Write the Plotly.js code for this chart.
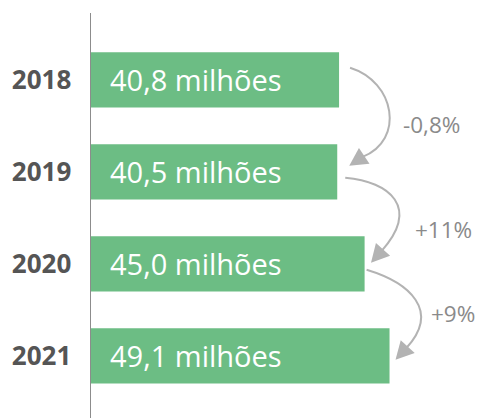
<!DOCTYPE html>
<html>
<head>
<meta charset="utf-8">
<script src="https://cdn.plot.ly/plotly-3.0.1.min.js"></script>
<style>html,body{margin:0;padding:0;background:#fff;}#chart{width:479px;height:418px;}</style>
</head>
<body>
<div id="chart"></div>
<script>
// ---- data ----
const years = ['2018', '2019', '2020', '2021'];
const values = [40.8, 40.5, 45.0, 49.1];
const barLabels = ['40,8 milhões', '40,5 milhões', '45,0 milhões', '49,1 milhões'];
const changeLabels = ['-0,8%', '+11%', '+9%'];

// ---- layout geometry ----
const W = 479, H = 418;
const M = {l: 91, r: 0, t: 13, b: 0};
const plotW = W - M.l - M.r, plotH = H - M.t - M.b;
const pxPerUnit = 6.08;
const xMax = plotW / pxPerUnit;
const yTop = -0.726, yBot = 3.676;
const pyPerUnit = plotH / (yBot - yTop);

const cats = years.map((_, i) => i);
const px = v => M.l + v * pxPerUnit;
const py = v => M.t + (v - yTop) * pyPerUnit;
const dx = p => (p - M.l) / pxPerUnit;
const dy = p => yTop + (p - M.t) / pyPerUnit;

// arrow styling (pixel offsets relative to bar ends)
const arrowStyle = [
  {s: [11, -12], t: [12, -6], dir: [-15, 10], c1: [45, 14], c2: [41, -16], lab: [52, -41]},
  {s: [8, 6], t: [6.4, -1], dir: [-12.4, 13.8], c1: [45, 4], c2: [37, -42], lab: [42, -33]},
  {s: [2, 6], t: [6, 4], dir: [-13, 14.1], c1: [43, 13], c2: [33, -36], lab: [33.5, -46]}
];
const gray = '#b3b3b3';
const shapes = [];
const annotations = [];

changeLabels.forEach((lab, i) => {
  const st = arrowStyle[i];
  const A = [px(values[i]), py(cats[i])];
  const B = [px(values[i + 1]), py(cats[i + 1])];
  const S = [A[0] + st.s[0], A[1] + st.s[1]];
  const T = [B[0] + st.t[0], B[1] + st.t[1]];
  const n = Math.hypot(st.dir[0], st.dir[1]);
  const d = [st.dir[0] / n, st.dir[1] / n];
  const len = 18, hw = 9.5;
  const E = [T[0] - len * d[0], T[1] - len * d[1]];
  const C1 = [S[0] + st.c1[0], S[1] + st.c1[1]];
  const C2 = [E[0] + st.c2[0], E[1] + st.c2[1]];
  const P = p => dx(p[0]) + ',' + dy(p[1]);
  shapes.push({
    type: 'path', xref: 'x', yref: 'y',
    path: 'M ' + P(S) + ' C ' + P(C1) + ' ' + P(C2) + ' ' + P([E[0] + 2 * d[0], E[1] + 2 * d[1]]),
    line: {color: gray, width: 2}
  });
  const perp = [-d[1], d[0]];
  const b1 = [E[0] + hw * perp[0], E[1] + hw * perp[1]];
  const b2 = [E[0] - hw * perp[0], E[1] - hw * perp[1]];
  shapes.push({
    type: 'path', xref: 'x', yref: 'y',
    path: 'M ' + P(T) + ' L ' + P(b1) + ' L ' + P(b2) + ' Z',
    fillcolor: gray, line: {width: 0}
  });
  annotations.push({
    x: dx(T[0] + st.lab[0]), y: dy(T[1] + st.lab[1]), xref: 'x', yref: 'y',
    text: lab, showarrow: false, xanchor: 'left', yanchor: 'middle',
    font: {family: 'Open Sans', size: 22.5, color: '#8a8a8a'}
  });
});

barLabels.forEach((t, i) => {
  annotations.push({
    x: 0, y: cats[i], xref: 'x', yref: 'y', xshift: 17,
    text: t, showarrow: false, xanchor: 'left', yanchor: 'middle',
    font: {family: 'Open Sans', size: 29, color: '#ffffff'}
  });
});

const trace = {
  type: 'bar', orientation: 'h',
  y: cats, x: values, width: 0.6,
  marker: {color: '#6cbd84'},
  hoverinfo: 'none'
};

const layout = {
  width: W, height: H,
  margin: M,
  paper_bgcolor: '#ffffff', plot_bgcolor: '#ffffff',
  showlegend: false,
  xaxis: {range: [0, xMax], visible: false, fixedrange: true},
  yaxis: {
    range: [yBot, yTop], tickmode: 'array', tickvals: cats, ticktext: years,
    showline: true, linecolor: '#8c8c8c', linewidth: 1.5,
    showgrid: false, zeroline: false,
    ticks: 'outside', ticklen: 13, tickcolor: 'rgba(0,0,0,0)',
    tickfont: {family: 'Open Sans', size: 26, color: '#555555', weight: 'bold'},
    fixedrange: true
  },
  shapes: shapes,
  annotations: annotations
};

Plotly.newPlot('chart', [trace], layout, {displayModeBar: false, staticPlot: true});
</script>
</body>
</html>
